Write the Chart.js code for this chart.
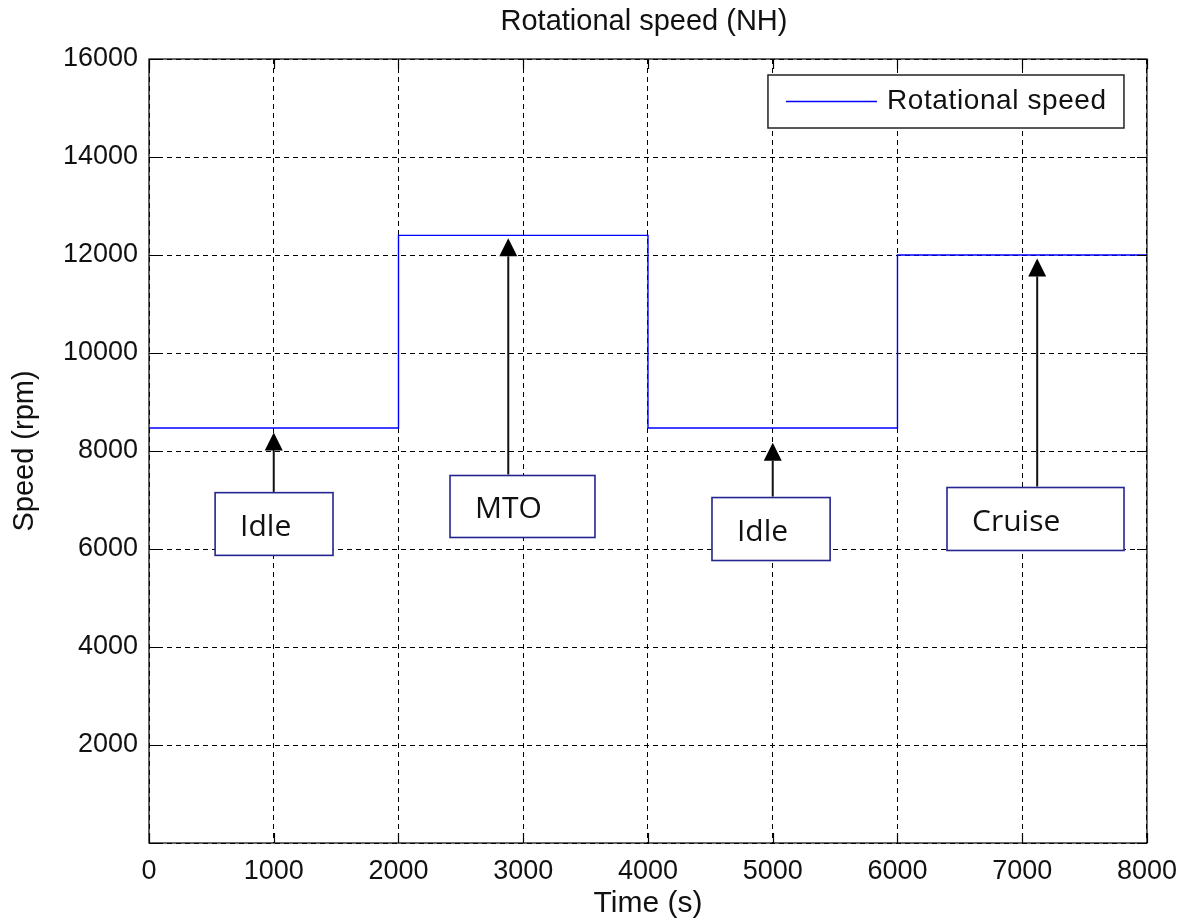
<!DOCTYPE html>
<html>
<head>
<meta charset="utf-8">
<title>Rotational speed (NH)</title>
<script src="https://cdn.jsdelivr.net/npm/chart.js@4.4.1/dist/chart.umd.min.js"></script>
<style>
  html, body { margin: 0; padding: 0; background: #fff; }
  #wrap { width: 1189px; height: 923px; position: relative; }
</style>
</head>
<body>
<div id="wrap"><canvas id="canvas"></canvas></div>
<script>
// step changes of the NH spool speed
const stepTimes = [0, 2000, 4000, 6000, 8000];
const stepSpeeds = [8470, 12400, 8470, 12000, 12000];
const xTicks = [0, 1000, 2000, 3000, 4000, 5000, 6000, 7000, 8000];
const yTicks = [0, 2000, 4000, 6000, 8000, 10000, 12000, 14000, 16000];

// annotation callouts (label + where the arrow points)
const noteLabels = ['Idle', 'MTO', 'Idle', 'Cruise'];
const noteArrowX = [1000, 2880, 5000, 7120];
const noteArrowTip = [8380, 12340, 8170, 11930];

const FONT = 'Arial, "Liberation Sans", sans-serif';
const chartTitle = 'Rotational speed (NH)';

// box layout for the callouts, in data units
const noteBoxes = [
  { x0: 530, x1: 1475, y0: 7150, y1: 5870 },
  { x0: 2413, x1: 3575, y0: 7500, y1: 6235 },
  { x0: 4513, x1: 5460, y0: 7050, y1: 5765 },
  { x0: 6397, x1: 7816, y0: 7255, y1: 5970 }
];

const matlabFrame = {
  id: 'matlabFrame',
  afterDraw(chart) {
    const ctx = chart.ctx;
    const a = chart.chartArea;
    const xs = chart.scales.x, ys = chart.scales.y;
    ctx.save();
    // title, centred over the axes like matlab does
    ctx.fillStyle = '#111';
    ctx.font = '29px ' + FONT;
    ctx.textAlign = 'center';
    ctx.textBaseline = 'middle';
    ctx.fillText(chartTitle, (a.left + a.right) / 2 - 4, 22);

    // box around plot
    ctx.strokeStyle = '#000';
    ctx.lineWidth = 1.2;
    ctx.setLineDash([]);
    ctx.strokeRect(a.left, a.top, a.right - a.left, a.bottom - a.top);
    // inward tick marks on all sides
    const tl = 10;
    ctx.beginPath();
    xTicks.forEach(function(t) {
      const px = Math.round(xs.getPixelForValue(t)) + 0.5;
      ctx.moveTo(px, a.bottom); ctx.lineTo(px, a.bottom - tl);
      ctx.moveTo(px, a.top); ctx.lineTo(px, a.top + tl);
    });
    yTicks.forEach(function(t) {
      const py = Math.round(ys.getPixelForValue(t)) + 0.5;
      ctx.moveTo(a.left, py); ctx.lineTo(a.left + tl, py);
      ctx.moveTo(a.right, py); ctx.lineTo(a.right - tl, py);
    });
    ctx.stroke();

    // callout boxes and arrows
    noteBoxes.forEach(function(b, i) {
      const l = xs.getPixelForValue(b.x0), r = xs.getPixelForValue(b.x1);
      const t = ys.getPixelForValue(b.y0), bt = ys.getPixelForValue(b.y1);
      ctx.fillStyle = '#fff';
      ctx.fillRect(l, t, r - l, bt - t);
      ctx.strokeStyle = '#25258f';
      ctx.lineWidth = 1.6;
      ctx.strokeRect(l, t, r - l, bt - t);
      ctx.fillStyle = '#111';
      ctx.font = '30px "Open Sans", sans-serif';
      ctx.textAlign = 'left';
      ctx.textBaseline = 'middle';
      ctx.fillText(noteLabels[i], l + 25, (t + bt) / 2 + 3);

      const ax = xs.getPixelForValue(noteArrowX[i]);
      const tip = ys.getPixelForValue(noteArrowTip[i]);
      const head = 18;
      ctx.strokeStyle = '#111';
      ctx.lineWidth = 2;
      ctx.beginPath();
      ctx.moveTo(ax, t - 1);
      ctx.lineTo(ax, tip + head);
      ctx.stroke();
      ctx.fillStyle = '#000';
      ctx.beginPath();
      ctx.moveTo(ax, tip);
      ctx.lineTo(ax - 9, tip + head);
      ctx.lineTo(ax + 9, tip + head);
      ctx.closePath();
      ctx.fill();
    });

    // legend box, top right inside the axes
    const ds = chart.data.datasets[0];
    const lx = a.right - 379, ly = a.top + 16, lw = 356, lh = 53;
    ctx.fillStyle = '#fff';
    ctx.fillRect(lx, ly, lw, lh);
    ctx.strokeStyle = '#222';
    ctx.lineWidth = 1.5;
    ctx.strokeRect(lx, ly, lw, lh);
    ctx.strokeStyle = ds.borderColor;
    ctx.lineWidth = 1.3;
    ctx.beginPath();
    ctx.moveTo(lx + 18, ly + 26.5);
    ctx.lineTo(lx + 109, ly + 26.5);
    ctx.stroke();
    ctx.fillStyle = '#111';
    ctx.font = '28px ' + FONT;
    ctx.textAlign = 'left';
    ctx.textBaseline = 'middle';
    ctx.letterSpacing = '0.6px';
    ctx.fillText(ds.label, lx + 119, ly + 26);
    ctx.restore();
  }
};

const canvas = document.getElementById('canvas');
const myChart = new Chart(canvas, {
  type: 'line',
  data: {
    datasets: [{
      label: 'Rotational speed',
      data: stepTimes.map(function(t, i) { return { x: t, y: stepSpeeds[i] }; }),
      stepped: 'before',
      borderColor: '#0000ff',
      borderWidth: 1.4,
      pointRadius: 0,
      fill: false
    }]
  },
  plugins: [matlabFrame],
  options: {
    responsive: true,
    maintainAspectRatio: false,
    animation: false,
    layout: { padding: { top: 59, right: 42, bottom: 0, left: 0 } },
    plugins: {
      legend: { display: false },
      tooltip: { enabled: false },
      title: { display: false }
    },
    scales: {
      x: {
        type: 'linear',
        min: 0,
        max: 8000,
        afterBuildTicks: function(scale) { scale.ticks = xTicks.map(function(v) { return { value: v }; }); },
        afterFit: function(scale) { scale.height = 80; },
        grid: {
          color: '#000',
          lineWidth: 1,
          drawTicks: false
        },
        border: { display: false, dash: [5, 4] },
        ticks: {
          color: '#111',
          padding: 12,
          maxRotation: 0,
          font: { family: FONT, size: 27 },
          callback: function(v) { return String(v); }
        },
        title: {
          display: true,
          text: 'Time (s)',
          color: '#111',
          font: { family: FONT, size: 30 },
          padding: { top: 0, bottom: 1 }
        }
      },
      y: {
        type: 'linear',
        min: 0,
        max: 16000,
        afterBuildTicks: function(scale) { scale.ticks = yTicks.map(function(v) { return { value: v }; }); },
        afterFit: function(scale) { scale.width = 149; },
        grid: {
          color: '#000',
          lineWidth: 1,
          drawTicks: false
        },
        border: { display: false, dash: [5, 4] },
        ticks: {
          color: '#111',
          padding: 11,
          font: { family: FONT, size: 27 },
          callback: function(v) { return v === 0 ? '' : String(v); }
        },
        title: {
          display: true,
          text: 'Speed (rpm)',
          color: '#111',
          font: { family: FONT, size: 29 },
          padding: { top: 8, bottom: 0 }
        }
      }
    }
  }
});
</script>
</body>
</html>
